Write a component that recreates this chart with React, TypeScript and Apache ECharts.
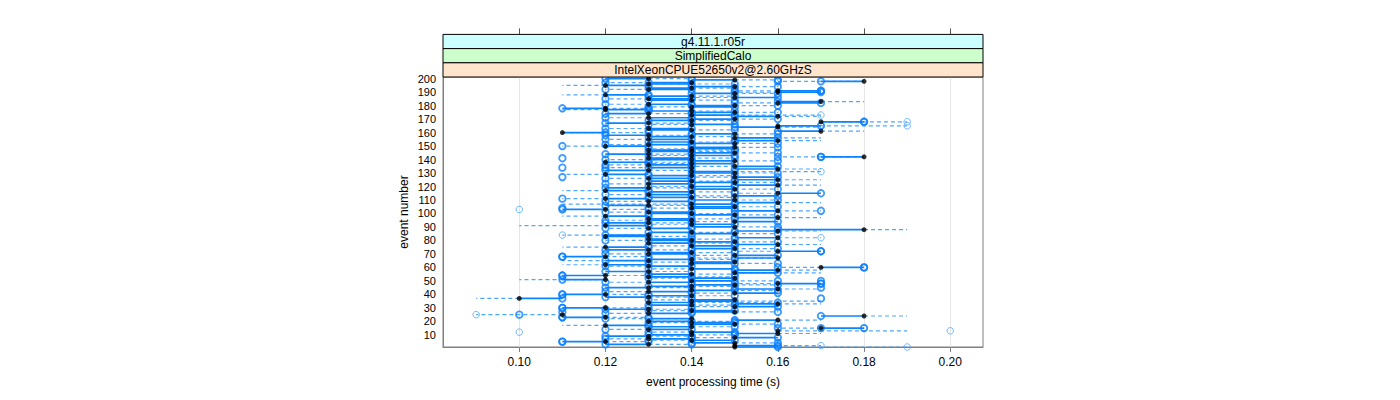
import React, { useEffect, useRef } from "react";
import * as echarts from "echarts";

const xTicks = [0.1, 0.12, 0.14, 0.16, 0.18, 0.2];
const yTicks = [10, 20, 30, 40, 50, 60, 70, 80, 90, 100, 110, 120, 130, 140, 150, 160, 170, 180, 190, 200];
const stripLabels = ["g4.11.1.r05r", "SimplifiedCalo", "IntelXeonCPUE52650v2@2.60GHzS"];
const stripColors = ["#CCFFFF", "#CCFFCC", "#FFE5CC"];

// per event (1..200), times in hundredths of a second
const blackT = [
  15, 15, 13, 15, 12, 14, 13, 15, 13, 14,
  16, 14, 16, 13, 17, 14, 12, 15, 14, 13,
  16, 14, 12, 18, 11, 13, 15, 14, 13, 12,
  15, 14, 16, 13, 14, 15, 10, 13, 14, 12,
  15, 13, 14, 16, 13, 14, 15, 16, 13, 14,
  12, 15, 13, 12, 14, 15, 13, 16, 14, 17,
  13, 12, 14, 15, 13, 14, 16, 12, 15, 13,
  14, 16, 13, 15, 12, 14, 16, 13, 15, 14,
  13, 16, 12, 13, 15, 14, 16, 18, 13, 15,
  12, 14, 13, 15, 14, 13, 16, 12, 15, 14,
  13, 16, 12, 14, 15, 13, 14, 16, 13, 15,
  12, 14, 15, 13, 16, 14, 12, 15, 13, 14,
  16, 13, 15, 14, 16, 13, 15, 14, 12, 15,
  14, 13, 16, 14, 15, 13, 14, 12, 15, 14,
  13, 18, 14, 13, 15, 14, 13, 14, 15, 12,
  13, 15, 14, 16, 13, 15, 14, 13, 15, 11,
  17, 14, 13, 16, 16, 14, 13, 17, 14, 15,
  13, 16, 14, 13, 15, 14, 12, 12, 14, 15,
  13, 16, 17, 14, 13, 15, 14, 12, 15, 16,
  16, 13, 14, 15, 12, 13, 14, 18, 15, 13,
];
const solidT = [
  16, 16, 12, 14, 11, 15, 14, 16, 12, 13,
  15, 15, 16, 14, 18, 13, 13, 14, 15, 14,
  15, 13, 11, 17, 11, 14, 14, 15, 12, 11,
  16, 13, 15, 14, 15, 14, 11, 12, 13, 11,
  16, 14, 15, 15, 12, 13, 14, 17, 14, 15,
  11, 14, 14, 11, 13, 16, 12, 15, 15, 18,
  14, 13, 15, 14, 12, 13, 15, 11, 16, 14,
  13, 17, 12, 14, 13, 15, 15, 14, 14, 13,
  14, 15, 13, 12, 14, 13, 15, 16, 14, 14,
  13, 15, 12, 16, 13, 14, 15, 13, 14, 13,
  14, 15, 11, 15, 14, 12, 15, 15, 14, 14,
  13, 13, 16, 14, 17, 13, 13, 14, 12, 15,
  15, 14, 14, 13, 15, 14, 16, 13, 13, 14,
  15, 12, 15, 13, 16, 14, 15, 13, 14, 13,
  14, 17, 15, 12, 14, 13, 14, 15, 14, 13,
  14, 14, 13, 15, 14, 16, 13, 12, 14, 12,
  16, 13, 14, 15, 17, 15, 12, 18, 13, 14,
  14, 15, 15, 12, 14, 13, 13, 11, 15, 14,
  14, 17, 16, 13, 14, 16, 13, 13, 14, 17,
  17, 14, 13, 14, 13, 14, 13, 17, 14, 12,
];
const dashT = [
  19, 17, 14, 16, 13, 13, 12, 14, 14, 15,
  17, 13, 19, 12, 16, 15, 11, 16, 13, 15,
  17, 12, 13, 19, 9, 12, 16, 13, 14, 13,
  14, 15, 17, 16, 17, 13, 9, 14, 15, 13,
  14, 12, 16, 17, 14, 15, 16, 15, 12, 16,
  10, 13, 15, 13, 15, 17, 14, 17, 13, 16,
  12, 11, 16, 13, 11, 15, 14, 13, 14, 12,
  15, 15, 14, 16, 11, 13, 17, 15, 16, 12,
  15, 17, 14, 11, 16, 15, 17, 19, 12, 16,
  10, 13, 14, 14, 12, 15, 17, 11, 16, 15,
  12, 17, 13, 13, 16, 14, 11, 17, 12, 16,
  11, 15, 14, 12, 15, 15, 11, 16, 14, 13,
  17, 12, 16, 15, 17, 12, 14, 15, 11, 16,
  17, 14, 17, 12, 14, 12, 13, 14, 16, 12,
  15, 16, 13, 14, 16, 15, 15, 13, 16, 11,
  12, 16, 15, 17, 12, 17, 15, 14, 16, 13,
  18, 15, 12, 17, 19, 13, 14, 19, 15, 16,
  12, 17, 17, 14, 16, 15, 11, 13, 13, 16,
  12, 15, 18, 15, 12, 14, 15, 11, 16, 15,
  15, 12, 15, 16, 11, 15, 12, 16, 16, 14,
];
// extra open circles: [event, time in hundredths]
const boldExtra = [
  [150, 11], [141, 11], [134, 11], [127, 11], [111, 11], [104, 11], [68, 11], [54, 11],
  [40, 11], [30, 11], [27, 11], [23, 11], [5, 11], [25, 10],
  [191, 17], [142, 17], [102, 17], [72, 17], [50, 17], [48, 17], [45, 17], [37, 17], [15, 17],
  [168, 18], [60, 18],
];
const thinExtra = [
  [84, 11], [103, 10], [12, 10], [25, 9],
  [173, 17], [165, 17], [131, 17], [82, 17], [2, 17],
  [15, 18], [168, 19], [165, 19], [1, 19], [13, 20],
];

const FONT = "Liberation Sans";

export default function App() {
  const ref = useRef<HTMLDivElement>(null);
  useEffect(() => {
    const chart = echarts.init(ref.current as HTMLDivElement, null, { renderer: "svg" });
    const solidData: number[][] = [];
    const dashData: number[][] = [];
    const boldPts: number[][] = [];
    const blackPts: number[][] = [];
    for (let i = 0; i < blackT.length; i++) {
      const e = i + 1;
      const b = blackT[i] / 100;
      const s = solidT[i] / 100;
      const d = dashT[i] / 100;
      if (solidT[i] !== blackT[i]) {
        solidData.push([b, s, e]);
        boldPts.push([s, e]);
      }
      if (dashT[i] !== blackT[i]) {
        dashData.push([b, d, e]);
        if (dashT[i] >= 12 && dashT[i] <= 16) boldPts.push([d, e]);
      }
      blackPts.push([b, e]);
    }
    boldExtra.forEach(([e, t]) => boldPts.push([t / 100, e]));
    const thinPts = thinExtra.map(([e, t]) => [t / 100, e]);

    const seg = (dashed: boolean) => (params: any, api: any) => {
      const p1 = api.coord([api.value(0), api.value(2)]);
      const p2 = api.coord([api.value(1), api.value(2)]);
      return {
        type: "line",
        shape: { x1: p1[0], y1: p1[1], x2: p2[0], y2: p2[1] },
        style: dashed
          ? { stroke: "#4da6ff", lineWidth: 1.2, lineDash: [4, 3] }
          : { stroke: "#0a84ff", lineWidth: 1.7 },
      };
    };

    const gridLeft = 443, gridTop = 77, gridW = 540, gridH = 270;
    const stripH = 14.2;
    const graphics: any[] = [];
    stripLabels.forEach((lab, i) => {
      const y = gridTop - stripH * (3 - i);
      graphics.push({
        type: "rect",
        shape: { x: gridLeft, y, width: gridW, height: stripH },
        style: { fill: stripColors[i], stroke: "#000", lineWidth: 1 },
        z: 10,
      });
      graphics.push({
        type: "text",
        x: gridLeft + gridW / 2,
        y: y + stripH / 2 + 0.5,
        style: { text: lab, font: `12px "${FONT}"`, fill: "#000", align: "center", verticalAlign: "middle" },
        z: 11,
      });
    });

    chart.setOption({
      animation: false,
      backgroundColor: "#fff",
      textStyle: { fontFamily: FONT },
      grid: { left: gridLeft, top: gridTop, width: gridW, height: gridH, show: true, borderColor: "#808080", borderWidth: 1, backgroundColor: "transparent" },
      xAxis: [
        {
          type: "value",
          min: 0.0823,
          max: 0.2076,
          position: "bottom",
          axisLine: { show: true, lineStyle: { color: "#808080", width: 1 } },
          axisTick: { show: true, customValues: xTicks, length: 5, lineStyle: { color: "#808080" } },
          axisLabel: { customValues: xTicks, formatter: (v: number) => v.toFixed(2), color: "#000", fontSize: 12, fontFamily: FONT, margin: 9 },
          splitLine: { show: true, lineStyle: { color: "#e6e6e6", width: 1 } },
          name: "event processing time (s)",
          nameLocation: "middle",
          nameGap: 29,
          nameTextStyle: { color: "#000", fontSize: 12, fontFamily: FONT },
        },
        {
          type: "value",
          min: 0.0823,
          max: 0.2076,
          position: "top",
          offset: stripH * 3,
          axisLine: { show: false },
          axisTick: { show: true, customValues: xTicks, length: 6, lineStyle: { color: "#555" } },
          axisLabel: { show: false },
          splitLine: { show: false },
        },
      ],
      yAxis: {
        type: "value",
        min: 1,
        max: 201.2,
        axisLine: { show: true, lineStyle: { color: "#808080", width: 1 } },
        axisTick: { show: false, customValues: yTicks },
        axisLabel: { customValues: yTicks, color: "#000", fontSize: 11, fontFamily: FONT, margin: 7 },
        splitLine: { show: false },
        name: "event number",
        nameLocation: "middle",
        nameGap: 33,
        nameRotate: 90,
        nameTextStyle: { color: "#000", fontSize: 12, fontFamily: FONT },
      },
      graphic: graphics,
      series: [
        { type: "custom", renderItem: seg(true), data: dashData, encode: { x: [0, 1], y: 2 }, clip: true, silent: true, z: 2 },
        { type: "custom", renderItem: seg(false), data: solidData, encode: { x: [0, 1], y: 2 }, clip: true, silent: true, z: 3 },
        {
          type: "scatter", data: thinPts, symbol: "circle", symbolSize: 6.5, clip: true, silent: true, z: 4,
          itemStyle: { color: "rgba(0,0,0,0)", borderColor: "#4da6ff", borderWidth: 1 },
        },
        {
          type: "scatter", data: boldPts, symbol: "circle", symbolSize: 6.5, clip: true, silent: true, z: 5,
          itemStyle: { color: "rgba(0,0,0,0)", borderColor: "#0a7fff", borderWidth: 1.8 },
        },
        {
          type: "scatter", data: blackPts, symbol: "circle", symbolSize: 5, clip: true, silent: true, z: 6,
          itemStyle: { color: "#000", borderWidth: 0 },
        },
      ],
    });
    return () => chart.dispose();
  }, []);
  return <div ref={ref} style={{ position: "fixed", left: 0, top: 0, width: 1400, height: 400 }} />;
}
